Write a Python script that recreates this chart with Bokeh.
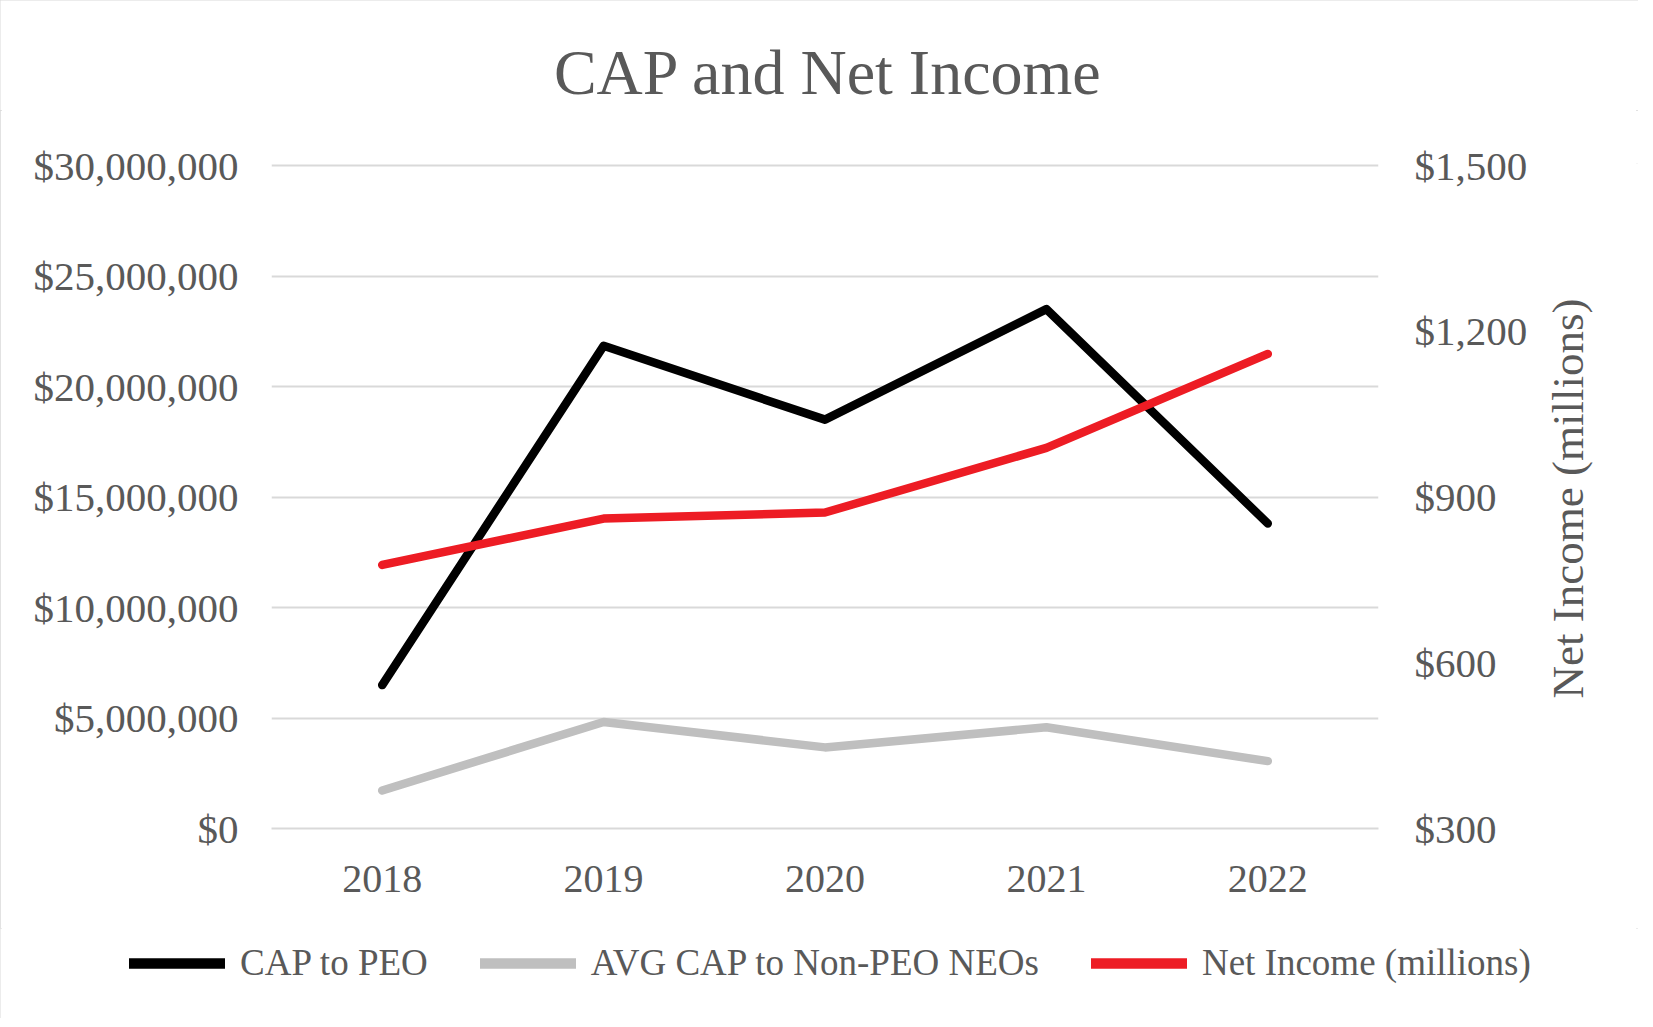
import math
from bokeh.plotting import figure
from bokeh.models import (Range1d, LinearAxis, FixedTicker, NumeralTickFormatter,
                          Legend, LegendItem, Label)
from bokeh.layouts import column, row
from bokeh.embed import file_html
from bokeh.resources import INLINE

years = [2018, 2019, 2020, 2021, 2022]
cap_peo = [6.49e6, 21.84e6, 18.5e6, 23.5e6, 13.8e6]
avg_cap_neo = [1.72e6, 4.82e6, 3.67e6, 4.58e6, 3.05e6]
net_income = [777, 861, 872, 989, 1159]

left_ticks = [0, 5e6, 10e6, 15e6, 20e6, 25e6, 30e6]
right_ticks = [300, 600, 900, 1200, 1500]

series_names = ["CAP to PEO", "AVG CAP to Non-PEO NEOs", "Net Income (millions)"]
series_colors = ["black", "#bfbfbf", "#ed1c24"]

TITLE = "CAP and Net Income"
RIGHT_LABEL = "Net Income (millions)"

FONT = "Liberation Serif"
TXT = "#595959"
GRID = "#d9d9d9"

TOTAL_W = 1638


def blank(width, height):
    f = figure(frame_width=width, frame_height=height,
               min_border=0, min_border_left=0, min_border_right=0,
               min_border_top=0, min_border_bottom=0,
               x_range=Range1d(0, 1), y_range=Range1d(0, 1),
               x_axis_location=None, y_axis_location=None,
               output_backend="svg", toolbar_location=None, tools="")
    f.outline_line_color = None
    f.xgrid.grid_line_color = None
    f.ygrid.grid_line_color = None
    f.background_fill_color = "white"
    f.border_fill_color = "white"
    return f


# ---- title strip
p0 = blank(TOTAL_W, 110)
p0.add_layout(Label(x=828, y=38, x_units="screen", y_units="screen", text=TITLE,
                    text_font=FONT, text_font_size="64px", text_color=TXT,
                    text_align="center", text_baseline="middle"))

# ---- main chart
pad = 1 + 2 / 663
p = figure(frame_width=1107, frame_height=665,
           min_border_left=271, min_border_right=160,
           min_border_top=53, min_border_bottom=100,
           x_range=Range1d(2017.5, 2022.5), y_range=Range1d(0, 30e6 * pad),
           output_backend="svg", toolbar_location=None, tools="")
p.extra_y_ranges = {"ni": Range1d(300, 300 + 1200 * pad)}

p.outline_line_color = None
p.background_fill_color = "white"
p.border_fill_color = "white"
p.xgrid.grid_line_color = None
p.ygrid.grid_line_color = GRID
p.ygrid.grid_line_width = 2

ya = p.yaxis[0]
ya.ticker = FixedTicker(ticks=left_ticks)
ya.formatter = NumeralTickFormatter(format="$0,0")
ya.axis_line_color = None
ya.major_tick_line_color = None
ya.minor_tick_line_color = None
ya.major_label_standoff = 27
ya.major_label_text_font = FONT
ya.major_label_text_font_size = "41px"
ya.major_label_text_color = TXT

ra = LinearAxis(y_range_name="ni", ticker=FixedTicker(ticks=right_ticks),
                formatter=NumeralTickFormatter(format="$0,0"))
ra.axis_line_color = None
ra.major_tick_line_color = None
ra.minor_tick_line_color = None
ra.major_label_standoff = 30
ra.major_label_text_font = FONT
ra.major_label_text_font_size = "41px"
ra.major_label_text_color = TXT
p.add_layout(ra, "right")

xa = p.xaxis[0]
xa.ticker = FixedTicker(ticks=years)
xa.formatter = NumeralTickFormatter(format="0")
xa.axis_line_color = GRID
xa.axis_line_width = 2
xa.major_tick_line_color = None
xa.minor_tick_line_color = None
xa.major_label_standoff = 31
xa.major_label_text_font = FONT
xa.major_label_text_font_size = "40px"
xa.major_label_text_color = TXT

series_vals = [cap_peo, avg_cap_neo, net_income]
series_ranges = ["default", "default", "ni"]
for vals, col, rng in zip(series_vals, series_colors, series_ranges):
    p.line(years, vals, y_range_name=rng, line_color=col, line_width=8.5,
           line_cap="round", line_join="round")

# ---- right axis title strip
pr = blank(TOTAL_W - (271 + 1107 + 160), 53 + 665 + 100)
pr.add_layout(Label(x=29, y=483, x_units="screen", y_units="screen",
                    text=RIGHT_LABEL, angle=math.pi / 2,
                    text_font=FONT, text_font_size="45px", text_color=TXT,
                    text_align="center", text_baseline="middle"))

# ---- legend strip (series drawn again, outside this strip's view, for the keys)
p2 = blank(TOTAL_W, 90)
items = []
for name, vals, col in zip(series_names, series_vals, series_colors):
    r = p2.line(years, vals, line_color=col, line_width=10.5, line_cap="round")
    items.append(LegendItem(label=name, renderers=[r]))
legend = Legend(items=items, orientation="horizontal", location=(129, 34),
                glyph_width=96, glyph_height=40, label_height=40,
                label_standoff=15, spacing=52,
                padding=0, margin=0, border_line_color=None,
                background_fill_alpha=0,
                label_text_font=FONT, label_text_font_size="37px",
                label_text_color=TXT)
p2.add_layout(legend, "center")

layout = column(p0, row(p, pr), p2,
                styles={"outline": "2px solid #d9d9d9", "outline-offset": "-2px"})

open("out.html", "w").write(file_html(layout, INLINE))
